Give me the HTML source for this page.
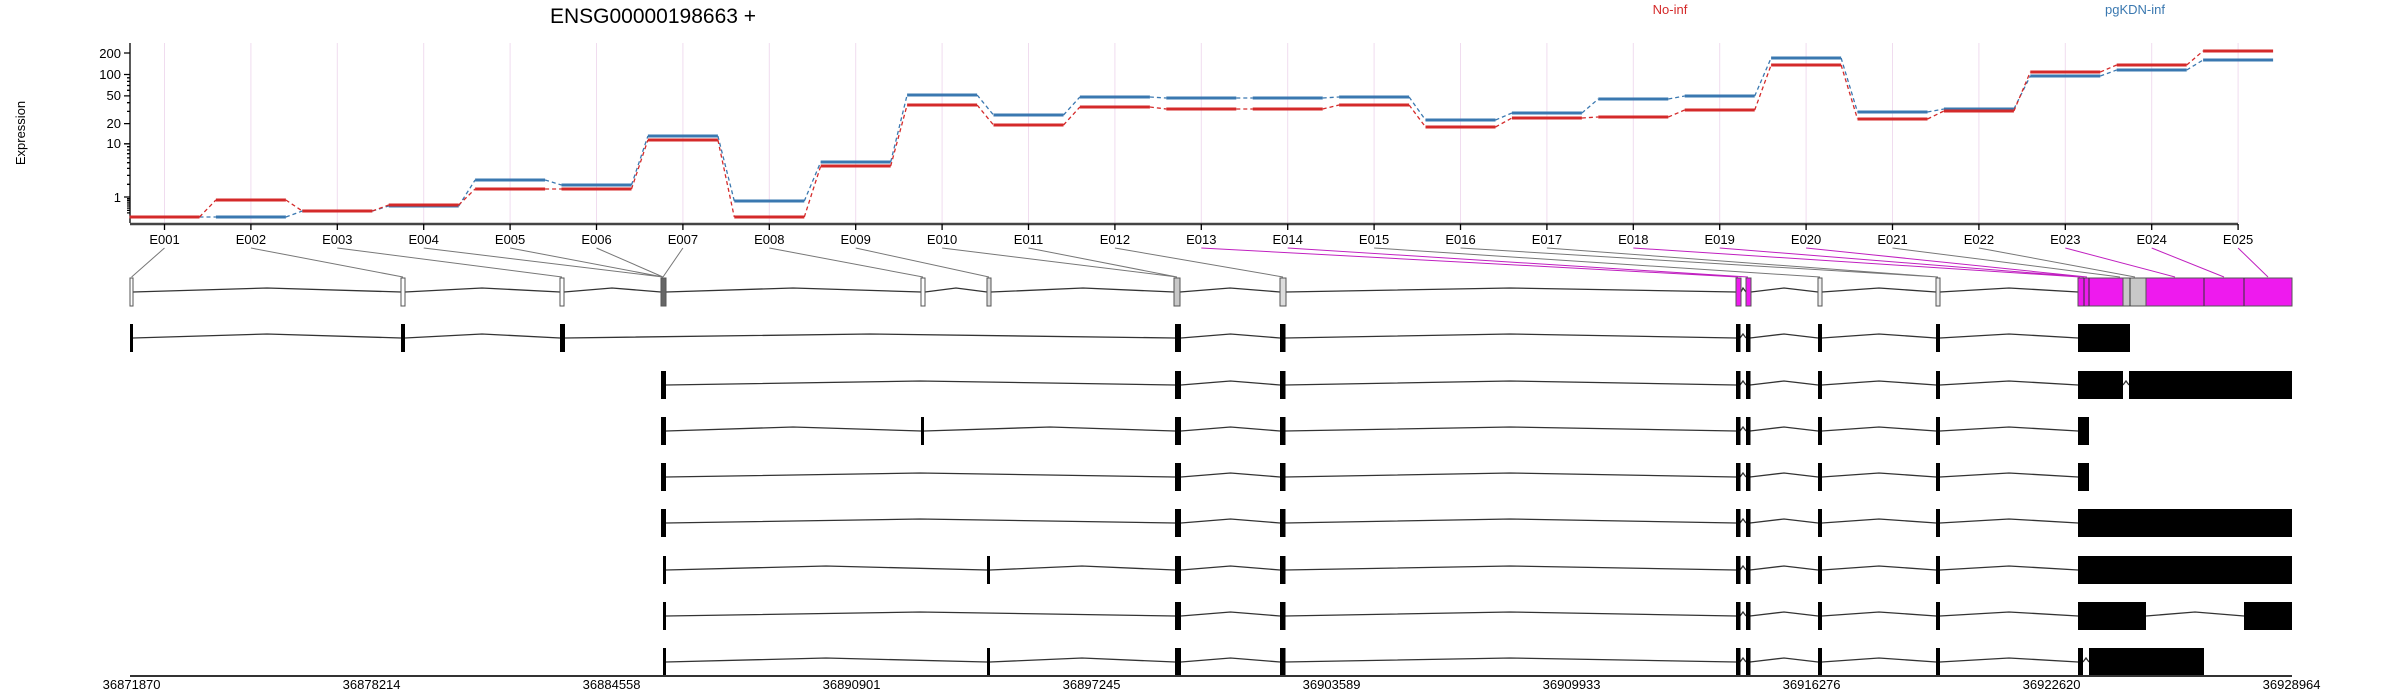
<!DOCTYPE html>
<html><head><meta charset="utf-8"><style>
html,body{margin:0;padding:0;background:#fff}
svg{display:block}
text{font-family:"Liberation Sans",sans-serif}
</style></head><body>
<svg width="2400" height="700" viewBox="0 0 2400 700" xmlns="http://www.w3.org/2000/svg">
<defs>
<g id="common">
<path d="M1181 0L1230.5 -4L1280 0M1285 0L1510 -4L1736 0M1740 0L1743 -4L1746 0M1750 0L1784 -4L1818 0M1822 0L1879 -4L1936 0M1940 0L2009 -4L2078 0" fill="none" stroke="#333" stroke-width="1.3"/>
<g fill="#000"><rect x="1175" y="-14" width="6" height="28"/><rect x="1280" y="-14" width="5.5" height="28"/><rect x="1736" y="-14" width="4.5" height="28"/><rect x="1746" y="-14" width="4.5" height="28"/><rect x="1818" y="-14" width="4" height="28"/><rect x="1936" y="-14" width="4" height="28"/></g>
</g>
</defs>
<!-- title & legend -->
<text x="653" y="23" font-size="21" text-anchor="middle">ENSG00000198663 +</text>
<text x="1670" y="14" font-size="13" fill="#d42a2a" text-anchor="middle">No-inf</text>
<text x="2135" y="14" font-size="13" fill="#3a78b0" text-anchor="middle">pgKDN-inf</text>
<text transform="translate(25 133) rotate(-90)" font-size="13" text-anchor="middle">Expression</text>
<!-- grid -->
<g stroke="#f0dcef" stroke-width="1">
<path d="M164.5 43V223M250.9 43V223M337.3 43V223M423.7 43V223M510.1 43V223M596.5 43V223M682.9 43V223M769.3 43V223M855.7 43V223M942.1 43V223M1028.5 43V223M1114.9 43V223M1201.3 43V223M1287.7 43V223M1374.1 43V223M1460.5 43V223M1546.9 43V223M1633.3 43V223M1719.7 43V223M1806.1 43V223M1892.5 43V223M1978.9 43V223M2065.3 43V223M2151.7 43V223M2238.1 43V223"/>
</g>
<!-- y axis -->
<g stroke="#000" stroke-width="1.3" fill="none">
<path d="M130 43V223"/>
<path d="M130 53H124M130 74.5H124M130 95.9H124M130 123.6H124M130 143.8H124M130 197H124"/>
<path d="M130 184.3H127M130 175.4H127M130 168.4H127M130 162.7H127M130 157.9H127M130 153.7H127M130 150H127M130 146.7H127M130 111.4H127M130 102.7H127M130 90.3H127M130 85.5H127M130 81.4H127M130 77.8H127M130 212.9H127M130 210.4H127M130 208.1H127M130 206H127M130 204H127M130 202.1H127M130 200.3H127M130 198.6H127"/>
</g>
<g font-size="13" text-anchor="end">
<text x="121" y="58">200</text><text x="121" y="79">100</text><text x="121" y="100">50</text><text x="121" y="128">20</text><text x="121" y="148">10</text><text x="121" y="202">1</text>
</g>
<!-- series -->
<g fill="none" stroke-width="3">
<path stroke="#3a78b0" d="M129.5 217H199.5M215.9 217H285.9M302.3 211H372.3M388.7 206H458.7M475.1 180H545.1M561.5 185H631.5M647.9 136H717.9M734.3 201H804.3M820.7 162H890.7M907.1 95H977.1M993.5 115H1063.5M1079.9 97H1149.9M1166.3 98H1236.3M1252.7 98H1322.7M1339.1 97H1409.1M1425.5 120H1495.5M1511.9 113H1581.9M1598.3 99H1668.3M1684.7 96H1754.7M1771.1 58H1841.1M1857.5 112H1927.5M1943.9 109H2013.9M2030.3 76H2100.3M2116.7 70H2186.7M2203.1 60H2273.1"/>
<path stroke="#d42a2a" d="M129.5 217H199.5M215.9 200H285.9M302.3 211H372.3M388.7 205H458.7M475.1 189H545.1M561.5 189H631.5M647.9 140H717.9M734.3 217H804.3M820.7 166H890.7M907.1 105H977.1M993.5 125H1063.5M1079.9 107H1149.9M1166.3 109H1236.3M1252.7 109H1322.7M1339.1 105H1409.1M1425.5 127H1495.5M1511.9 118H1581.9M1598.3 117H1668.3M1684.7 110H1754.7M1771.1 65H1841.1M1857.5 119H1927.5M1943.9 111H2013.9M2030.3 72H2100.3M2116.7 65H2186.7M2203.1 51H2273.1"/>
</g>
<g fill="none" stroke-width="1.3" stroke-dasharray="4 3">
<path stroke="#3a78b0" d="M199.5 217L215.9 217M285.9 217L302.3 211M372.3 211L388.7 206M458.7 206L475.1 180M545.1 180L561.5 185M631.5 185L647.9 136M717.9 136L734.3 201M804.3 201L820.7 162M890.7 162L907.1 95M977.1 95L993.5 115M1063.5 115L1079.9 97M1149.9 97L1166.3 98M1236.3 98L1252.7 98M1322.7 98L1339.1 97M1409.1 97L1425.5 120M1495.5 120L1511.9 113M1581.9 113L1598.3 99M1668.3 99L1684.7 96M1754.7 96L1771.1 58M1841.1 58L1857.5 112M1927.5 112L1943.9 109M2013.9 109L2030.3 76M2100.3 76L2116.7 70M2186.7 70L2203.1 60"/>
<path stroke="#d42a2a" d="M199.5 217L215.9 200M285.9 200L302.3 211M372.3 211L388.7 205M458.7 205L475.1 189M545.1 189L561.5 189M631.5 189L647.9 140M717.9 140L734.3 217M804.3 217L820.7 166M890.7 166L907.1 105M977.1 105L993.5 125M1063.5 125L1079.9 107M1149.9 107L1166.3 109M1236.3 109L1252.7 109M1322.7 109L1339.1 105M1409.1 105L1425.5 127M1495.5 127L1511.9 118M1581.9 118L1598.3 117M1668.3 117L1684.7 110M1754.7 110L1771.1 65M1841.1 65L1857.5 119M1927.5 119L1943.9 111M2013.9 111L2030.3 72M2100.3 72L2116.7 65M2186.7 65L2203.1 51"/>
</g>
<!-- x axis -->
<path d="M130 224H2238" stroke="#444" stroke-width="2.5"/>
<path stroke="#000" stroke-width="1.3" d="M164.5 224V230M250.9 224V230M337.3 224V230M423.7 224V230M510.1 224V230M596.5 224V230M682.9 224V230M769.3 224V230M855.7 224V230M942.1 224V230M1028.5 224V230M1114.9 224V230M1201.3 224V230M1287.7 224V230M1374.1 224V230M1460.5 224V230M1546.9 224V230M1633.3 224V230M1719.7 224V230M1806.1 224V230M1892.5 224V230M1978.9 224V230M2065.3 224V230M2151.7 224V230M2238.1 224V230"/>
<g font-size="13" text-anchor="middle">
<text x="164.5" y="244">E001</text><text x="250.9" y="244">E002</text><text x="337.3" y="244">E003</text><text x="423.7" y="244">E004</text><text x="510.1" y="244">E005</text><text x="596.5" y="244">E006</text><text x="682.9" y="244">E007</text><text x="769.3" y="244">E008</text><text x="855.7" y="244">E009</text><text x="942.1" y="244">E010</text><text x="1028.5" y="244">E011</text><text x="1114.9" y="244">E012</text><text x="1201.3" y="244">E013</text><text x="1287.7" y="244">E014</text><text x="1374.1" y="244">E015</text><text x="1460.5" y="244">E016</text><text x="1546.9" y="244">E017</text><text x="1633.3" y="244">E018</text><text x="1719.7" y="244">E019</text><text x="1806.1" y="244">E020</text><text x="1892.5" y="244">E021</text><text x="1978.9" y="244">E022</text><text x="2065.3" y="244">E023</text><text x="2151.7" y="244">E024</text><text x="2238.1" y="244">E025</text>
</g>
<!-- connectors -->
<path fill="none" stroke="#777" stroke-width="1" d="M164.5 248L131.6 277M250.9 248L403 277M337.3 248L562 277M423.7 248L663 277M510.1 248L663 277M596.5 248L663 277M682.9 248L663 277M769.3 248L923 277M855.7 248L989 277M942.1 248L1177 277M1028.5 248L1177 277M1114.9 248L1283 277M1374.1 248L1820 277M1460.5 248L1938 277M1546.9 248L1938 277M1892.5 248L2120 277M1978.9 248L2135 277"/>
<path fill="none" stroke="#c020c0" stroke-width="1" d="M1201.3 248L1738 277M1287.7 248L1748 277M1633.3 248L2080 277M1719.7 248L2084 277M1806.1 248L2087 277M2065.3 248L2175 277M2151.7 248L2224 277M2238.1 248L2268 277"/>
<!-- annotation row -->
<path fill="none" stroke="#333" stroke-width="1.3" d="M133 292L267 288L401 292M405 292L482 288L560 292M564 292L612 288L661 292M666 292L793 288L921 292M925 292L956 288L987 292M991 292L1083 288L1174 292M1180 292L1230 288L1280 292M1286 292L1510 288L1736 292M1741 292L1743 288L1746 292M1751 292L1784 288L1818 292M1822 292L1879 288L1936 292M1940 292L2009 288L2078 292"/>
<g stroke="#555" stroke-width="1">
<rect x="130" y="278" width="3" height="28" fill="#fff"/>
<rect x="401" y="278" width="4" height="28" fill="#fff"/>
<rect x="560" y="278" width="4" height="28" fill="#fff"/>
<rect x="661" y="278" width="5" height="28" fill="#666"/>
<rect x="921" y="278" width="4" height="28" fill="#fff"/>
<rect x="987" y="278" width="4" height="28" fill="#ddd"/>
<rect x="1174" y="278" width="6" height="28" fill="#c8c8c8"/>
<rect x="1280" y="278" width="6" height="28" fill="#ddd"/>
<rect x="1736" y="278" width="5" height="28" fill="#ee1aee"/>
<rect x="1746" y="278" width="5" height="28" fill="#ee1aee"/>
<rect x="1818" y="278" width="4" height="28" fill="#eee"/>
<rect x="1936" y="278" width="4" height="28" fill="#eee"/>
<rect x="2078" y="278" width="214" height="28" fill="#ee1aee"/>
<rect x="2123" y="278" width="23" height="28" fill="#c8c8c8"/>
<path d="M2084 278V306M2089 278V306M2130 278V306M2204 278V306M2244 278V306" fill="none" stroke="#333"/>
</g>
<!-- transcripts -->
<g stroke="#333" stroke-width="1.3" fill="none">
<path d="M133 338L267 334L401 338M405 338L482 334L560 338M565 338L870 334L1175 338"/>
<path d="M666 385L920 381L1175 385M2123 385L2126 381L2129 385"/>
<path d="M666 431L793 427L921 431M924 431L1050 427L1175 431"/>
<path d="M666 477L920 473L1175 477"/>
<path d="M666 523L920 519L1175 523"/>
<path d="M666 570L826 566L987 570M990 570L1082 566L1175 570"/>
<path d="M666 616L920 612L1175 616M2146 616L2195 612L2244 616"/>
<path d="M666 662L826 658L987 662M990 662L1082 658L1175 662M2083 662L2086 658L2089 662"/>
</g>
<use href="#common" y="338"/><use href="#common" y="385"/><use href="#common" y="431"/><use href="#common" y="477"/><use href="#common" y="523"/><use href="#common" y="570"/><use href="#common" y="616"/><use href="#common" y="662"/>
<g fill="#000">
<rect x="130" y="324" width="3" height="28"/><rect x="401" y="324" width="4" height="28"/><rect x="560" y="324" width="5" height="28"/><rect x="2078" y="324" width="52" height="28"/>
<rect x="661" y="371" width="5" height="28"/><rect x="2078" y="371" width="45" height="28"/><rect x="2129" y="371" width="163" height="28"/>
<rect x="661" y="417" width="5" height="28"/><rect x="921" y="417" width="3" height="28"/><rect x="2078" y="417" width="11" height="28"/>
<rect x="661" y="463" width="5" height="28"/><rect x="2078" y="463" width="11" height="28"/>
<rect x="661" y="509" width="5" height="28"/><rect x="2078" y="509" width="214" height="28"/>
<rect x="663" y="556" width="3" height="28"/><rect x="987" y="556" width="3" height="28"/><rect x="2078" y="556" width="214" height="28"/>
<rect x="663" y="602" width="3" height="28"/><rect x="2078" y="602" width="68" height="28"/><rect x="2244" y="602" width="48" height="28"/>
<rect x="663" y="648" width="3" height="28"/><rect x="987" y="648" width="3" height="28"/><rect x="2078" y="648" width="5" height="28"/><rect x="2089" y="648" width="115" height="28"/>
</g>
<!-- genomic axis -->
<path d="M130 676H2292" stroke="#333" stroke-width="2"/>
<g font-size="13" text-anchor="middle">
<text x="131.6" y="689">36871870</text><text x="371.6" y="689">36878214</text><text x="611.6" y="689">36884558</text><text x="851.6" y="689">36890901</text><text x="1091.6" y="689">36897245</text><text x="1331.6" y="689">36903589</text><text x="1571.6" y="689">36909933</text><text x="1811.6" y="689">36916276</text><text x="2051.6" y="689">36922620</text><text x="2291.6" y="689">36928964</text>
</g>
</svg>
</body></html>
